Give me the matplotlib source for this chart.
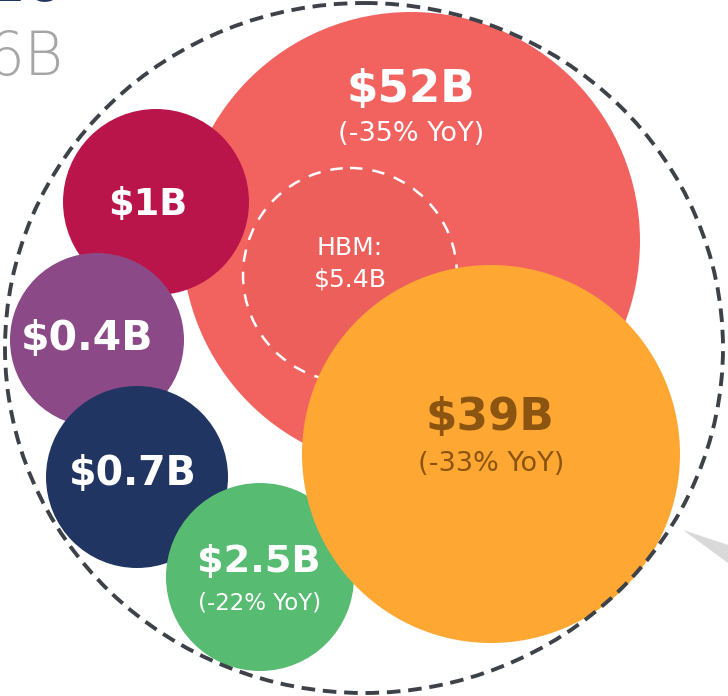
import matplotlib.pyplot as plt
from matplotlib.patches import Circle, Ellipse, Polygon

# Market segments shown as bubbles
values = ['$52B', '$39B', '$2.5B', '$1B', '$0.4B', '$0.7B']
yoy = ['(-35% YoY)', '(-33% YoY)', '(-22% YoY)', None, None, None]
colors = ['#F26360', '#FEA733', '#57BB72', '#B9154A', '#8B4A87', '#213563']
text_colors = ['white', '#8B5410', 'white', 'white', 'white', 'white']
hbm_label = 'HBM:\n$5.4B'

# layout in pixels (x, y, radius)
centers = [(411, 241), (491, 454), (260, 577), (156, 202), (97, 340), (137, 477)]
radii = [229, 189, 94, 93, 87, 91]
label_pos = [(411, 89), (490, 417), (259, 562), (148, 205), (87, 339), (133, 474)]
sub_pos = [(411, 134), (491, 464), (260, 603), None, None, None]
label_size = [32.5, 32.5, 27.5, 26.5, 29.5, 28.5]
sub_size = [19.5, 19.5, 16.5, None, None, None]
draw_order = [0, 3, 4, 5, 2, 1]

plt.rcParams['font.family'] = ['DejaVu Sans']

fig = plt.figure(figsize=(7.28, 6.96), dpi=100)
ax = fig.add_axes([0, 0, 1, 1])
ax.set_xlim(0, 728)
ax.set_ylim(696, 0)
ax.set_aspect('equal')
ax.axis('off')

# partial title text cut off at the left edge
ax.text(63, 58, '6B', ha='right', va='center', fontsize=43, color='#A6A6A6',
        fontweight='light')
ax.text(64, 0, '26', ha='right', va='baseline', fontsize=40, color='#213563',
        fontweight='bold')

# grey callout wedge
ax.add_patch(Polygon([(683, 530), (728, 545), (728, 563)], closed=True,
                     facecolor='#D9D9D9', edgecolor='none', zorder=1))

for k, i in enumerate(draw_order):
    ax.add_patch(Circle(centers[i], radii[i], facecolor=colors[i],
                        edgecolor='none', zorder=2 + k))
    if i == 0:
        ax.add_patch(Circle((350, 275), 107, facecolor='#EC5F5B',
                            edgecolor='white', linestyle=(0, (5, 4)),
                            linewidth=1.8, zorder=2.5))
        ax.text(350, 264, hbm_label, ha='center', va='center', fontsize=18,
                color='white', linespacing=1.4, zorder=2.6)

for i in range(len(values)):
    ax.text(label_pos[i][0], label_pos[i][1], values[i], ha='center',
            va='center', fontsize=label_size[i], fontweight='bold',
            color=text_colors[i], zorder=20)
    if yoy[i]:
        ax.text(sub_pos[i][0], sub_pos[i][1], yoy[i], ha='center',
                va='center', fontsize=sub_size[i], color=text_colors[i],
                zorder=20)

# outer dashed boundary
ax.add_patch(Ellipse((364, 348), 718, 690, facecolor='none',
                     edgecolor='#3D4249', linewidth=2.8,
                     linestyle=(0, (3.5, 2)), zorder=30))

fig.savefig('out.png', dpi=100)
